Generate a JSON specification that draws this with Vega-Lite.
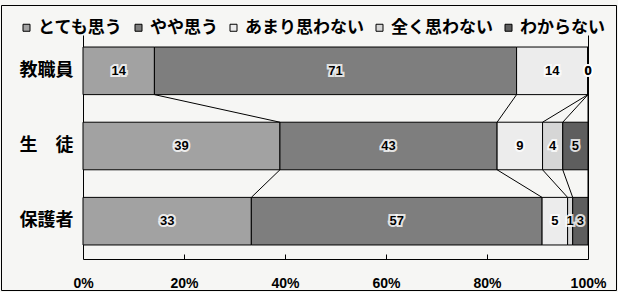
{
  "$schema": "https://vega.github.io/schema/vega-lite/v6.json",
  "autosize": {"type": "none"},
  "padding": {"left": 1, "top": 5, "right": 2, "bottom": 2},
  "width": 615,
  "height": 285,
  "background": "#f6f6f4",
  "data": {
    "values": [
      {"g": "教職員", "gi": 0, "s": "とても思う", "si": 0, "v": 14},
      {"g": "教職員", "gi": 0, "s": "やや思う", "si": 1, "v": 71},
      {"g": "教職員", "gi": 0, "s": "あまり思わない", "si": 2, "v": 14},
      {"g": "教職員", "gi": 0, "s": "全く思わない", "si": 3, "v": 0},
      {"g": "教職員", "gi": 0, "s": "わからない", "si": 4, "v": 0},
      {"g": "生　徒", "gi": 1, "s": "とても思う", "si": 0, "v": 39},
      {"g": "生　徒", "gi": 1, "s": "やや思う", "si": 1, "v": 43},
      {"g": "生　徒", "gi": 1, "s": "あまり思わない", "si": 2, "v": 9},
      {"g": "生　徒", "gi": 1, "s": "全く思わない", "si": 3, "v": 4},
      {"g": "生　徒", "gi": 1, "s": "わからない", "si": 4, "v": 5},
      {"g": "保護者", "gi": 2, "s": "とても思う", "si": 0, "v": 33},
      {"g": "保護者", "gi": 2, "s": "やや思う", "si": 1, "v": 57},
      {"g": "保護者", "gi": 2, "s": "あまり思わない", "si": 2, "v": 5},
      {"g": "保護者", "gi": 2, "s": "全く思わない", "si": 3, "v": 1},
      {"g": "保護者", "gi": 2, "s": "わからない", "si": 4, "v": 3}
    ]
  },
  "transform": [
    {"joinaggregate": [{"op": "sum", "field": "v", "as": "tot"}], "groupby": ["g"]},
    {"calculate": "datum.v / datum.tot", "as": "p"},
    {"window": [{"op": "sum", "field": "p", "as": "c1"}], "sort": [{"field": "si", "order": "ascending"}], "groupby": ["g"], "frame": [null, 0]},
    {"calculate": "datum.c1 - datum.p", "as": "c0"},
    {"calculate": "datum.c1 - datum.p / 2", "as": "cm"}
  ],
  "layer": [
    {
      "mark": {"type": "bar", "stroke": "#000", "strokeWidth": 1},
      "encoding": {
        "y": {
          "field": "g", "type": "nominal",
          "scale": {"domain": ["教職員", "生　徒", "保護者"], "range": [30, 252], "paddingInner": 0.367, "paddingOuter": 0.16},
          "axis": {"orient": "left", "offset": -82, "title": null, "ticks": false, "domain": true, "domainColor": "#000", "labelPadding": 10, "labelFont": "Noto Sans CJK JP", "labelFontSize": 18, "labelFontWeight": "bold", "labelColor": "#000"}
        },
        "x": {
          "field": "c0", "type": "quantitative",
          "scale": {"domain": [0, 1], "range": [82, 587], "nice": false, "zero": false},
          "axis": {"orient": "bottom", "offset": -31, "title": null, "format": "%", "values": [0, 0.2, 0.4, 0.6, 0.8, 1], "grid": false, "tickSize": -5, "tickColor": "#000", "domainColor": "#000", "labelPadding": 22, "labelFlush": false, "labelFont": "Liberation Sans", "labelFontSize": 14, "labelFontWeight": "bold", "labelColor": "#000"}
        },
        "x2": {"field": "c1"},
        "color": {
          "field": "s", "type": "nominal",
          "scale": {"domain": ["とても思う", "やや思う", "あまり思わない", "全く思わない", "わからない"], "range": ["#a2a2a2", "#7e7e7e", "#ececec", "#d6d6d6", "#5e5e5e"]},
          "legend": {"orient": "none", "legendX": 17, "legendY": 14, "direction": "horizontal", "columns": 5, "title": null, "symbolType": "square", "symbolSize": 49, "symbolStrokeColor": "#000", "symbolStrokeWidth": 1, "symbolOpacity": 1, "labelFont": "Noto Sans CJK JP", "labelFontSize": 17, "labelFontWeight": "bold", "labelColor": "#000", "columnPadding": 7, "labelOffset": 3}
        }
      }
    },
    {
      "transform": [
        {"window": [{"op": "lead", "field": "c1", "as": "n1"}, {"op": "lead", "field": "g", "as": "ng"}], "sort": [{"field": "gi", "order": "ascending"}], "groupby": ["s"]},
        {"filter": "datum.ng != null"}
      ],
      "mark": {"type": "rule", "color": "#000", "strokeWidth": 1},
      "encoding": {
        "x": {"field": "c1", "type": "quantitative"},
        "x2": {"field": "n1"},
        "y": {"field": "g", "type": "nominal", "bandPosition": 1,
          "axis": {"orient": "right", "offset": -28, "title": null, "labels": false, "ticks": false, "domain": true, "domainColor": "#000"}},
        "y2": {"field": "ng", "bandPosition": 0}
      }
    },
    {
      "mark": {"type": "text", "font": "Liberation Sans", "fontWeight": "bold", "fontSize": 13, "stroke": "#ffffff", "strokeWidth": 4, "strokeOpacity": 0.8, "fill": "#ffffff", "baseline": "middle", "align": "center"},
      "encoding": {
        "x": {"field": "cm", "type": "quantitative"},
        "y": {"field": "g", "type": "nominal", "axis": null},
        "text": {"field": "v", "type": "quantitative"}
      }
    },
    {
      "mark": {"type": "text", "font": "Liberation Sans", "fontWeight": "bold", "fontSize": 13, "fill": "#000", "baseline": "middle", "align": "center"},
      "encoding": {
        "x": {"field": "cm", "type": "quantitative"},
        "y": {"field": "g", "type": "nominal", "axis": null},
        "text": {"field": "v", "type": "quantitative"}
      }
    }
  ],
  "resolve": {"axis": {"y": "independent"}},
  "config": {"view": {"stroke": "#000", "strokeWidth": 1}}
}
